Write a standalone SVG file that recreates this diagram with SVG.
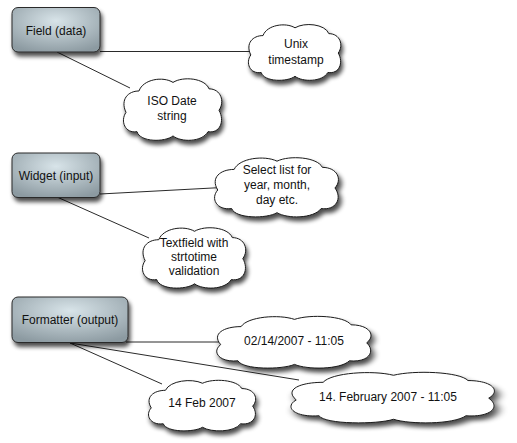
<svg xmlns="http://www.w3.org/2000/svg" xmlns:xlink="http://www.w3.org/1999/xlink" width="517" height="443" viewBox="0 0 517 443">
<style>
.box{fill:url(#boxgrad);stroke:#2a2a2a;stroke-width:1;filter:url(#shadow)}
.cloud{fill:#fff;stroke:#1a1a1a;stroke-width:1;filter:url(#shadow)}
.edge{stroke:#2a2a2a;stroke-width:1;fill:none}
text{font-family:"Liberation Sans",Arial,sans-serif;font-size:12px;fill:#111;text-anchor:middle}
</style>
<defs>
<radialGradient id="boxgrad" cx="0.5" cy="0.3" r="0.75">
<stop offset="0" stop-color="#d8e4e9"/>
<stop offset="1" stop-color="#8c9aa1"/>
</radialGradient>
<filter id="shadow" x="-20%" y="-20%" width="150%" height="160%">
<feGaussianBlur in="SourceAlpha" stdDeviation="2.2"/>
<feOffset dx="2" dy="4" result="b"/>
<feComponentTransfer><feFuncA type="linear" slope="0.7"/></feComponentTransfer>
<feMerge><feMergeNode/><feMergeNode in="SourceGraphic"/></feMerge>
</filter>
<path id="cloudpath" vector-effect="non-scaling-stroke" d="M 3,34 C -3,22 5,14 16,14 C 20,3 40,0 50,6 C 60,0 82,2 86,12 C 98,12 102,24 96,32 C 102,42 97,54 85,52 C 79,62 58,62 50,56 C 42,62 17,62 14,52 C 2,54 -3,42 3,34 Z"/>
</defs>
<g id="connectors">
<line class="edge" x1="100" y1="51.5" x2="252" y2="51.5"/>
<line class="edge" x1="57" y1="52" x2="130" y2="88"/>
<line class="edge" x1="100" y1="194" x2="222" y2="187.5"/>
<line class="edge" x1="57" y1="197" x2="149" y2="238"/>
<line class="edge" x1="126" y1="342" x2="220" y2="342"/>
<line class="edge" x1="70" y1="343" x2="162" y2="384"/>
<line class="edge" x1="70" y1="343" x2="299" y2="380"/>
</g>
<g id="field">
<rect class="box" x="12" y="7.5" width="88" height="44.5" rx="6"/>
<text x="56" y="35">Field (data)</text>
</g>
<g id="unix">
<use class="cloud" xlink:href="#cloudpath" transform="translate(248,22) scale(0.94,0.97)"/>
<text x="296" y="48">Unix</text>
<text x="296" y="64">timestamp</text>
</g>
<g id="iso">
<use class="cloud" xlink:href="#cloudpath" transform="translate(123,76) scale(1.0,1.07)"/>
<text x="172" y="105">ISO Date</text>
<text x="172" y="120">string</text>
</g>
<g id="widget">
<rect class="box" x="12" y="153" width="88" height="44.5" rx="6"/>
<text x="56" y="180">Widget (input)</text>
</g>
<g id="select">
<use class="cloud" xlink:href="#cloudpath" transform="translate(214,155) scale(1.26,1.03)"/>
<text x="277" y="174">Select list for</text>
<text x="277" y="189">year, month,</text>
<text x="277" y="204">day etc.</text>
</g>
<g id="textfield">
<use class="cloud" xlink:href="#cloudpath" transform="translate(142,225) scale(1.05,1.05)"/>
<text x="194" y="247">Textfield with</text>
<text x="194" y="261">strtotime</text>
<text x="194" y="275">validation</text>
</g>
<g id="formatter">
<rect class="box" x="12" y="297" width="116" height="45.5" rx="6"/>
<text x="70" y="324">Formatter (output)</text>
</g>
<g id="f1">
<use class="cloud" xlink:href="#cloudpath" transform="translate(216,314) scale(1.57,0.9)"/>
<text x="294" y="345">02/14/2007 - 11:05</text>
</g>
<g id="f2">
<use class="cloud" xlink:href="#cloudpath" transform="translate(148,378) scale(1.09,0.88)"/>
<text x="202" y="407">14 Feb 2007</text>
</g>
<g id="f3">
<use class="cloud" xlink:href="#cloudpath" transform="translate(290,370) scale(2.07,0.88)"/>
<text x="388" y="401">14. February 2007 - 11:05</text>
</g>
</svg>
